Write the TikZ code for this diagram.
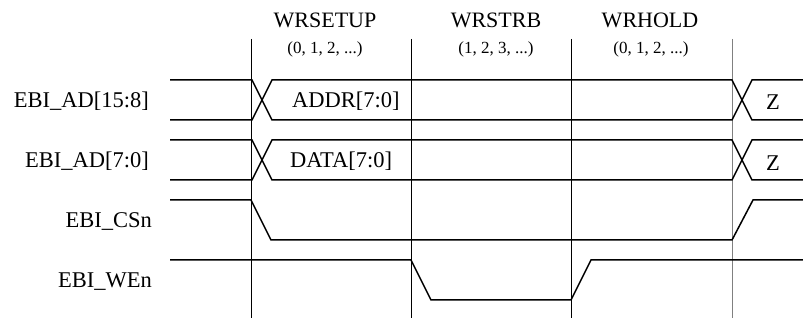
\documentclass[tikz,border=0pt]{standalone}
\usepackage{fontspec}
\setmainfont{Liberation Serif}
\begin{document}
\begin{tikzpicture}[x=1pt,y=-1pt,
  sig/.style={line width=1.5pt, line join=miter},
  gridline/.style={line width=0.7pt},
  lbl/.style={font=\fontsize{22.5}{24}\selectfont, inner sep=0pt, anchor=base east},
  bus/.style={font=\fontsize{22.5}{24}\selectfont, inner sep=0pt, anchor=base west},
  hdr/.style={font=\fontsize{22}{24}\selectfont, inner sep=0pt, anchor=base},
  sub/.style={font=\fontsize{17}{18}\selectfont, inner sep=0pt, anchor=base},
]
\useasboundingbox (0,0) rectangle (803,320);
% time grid
\foreach \x/\n in {251/g1,411/g2,571/g3} \draw[gridline] (\x,39) coordinate (\n top) -- (\x,318) coordinate (\n bot);
\draw[gridline, gray, line width=1pt] (732,39) coordinate (g4top) -- (732,318) coordinate (g4bot);
% headers
\node[hdr] (h1) at (325,28) {WRSETUP};
\node[hdr] (h2) at (496,28) {WRSTRB};
\node[hdr] (h3) at (650,28) {WRHOLD};
\node[sub] (s1) at (325,54) {(0, 1, 2, ...)};
\node[sub] (s2) at (496,54) {(1, 2, 3, ...)};
\node[sub] (s3) at (651,54) {(0, 1, 2, ...)};
% signal names
\node[lbl] (n1) at (149,108) {EBI\_AD[15:8]};
\node[lbl] (n2) at (149,168) {EBI\_AD[7:0]};
\node[lbl] (n3) at (152,228) {EBI\_CSn};
\node[lbl] (n4) at (152,288) {EBI\_WEn};
% EBI_AD[15:8]
\draw[sig] (170,80) -- (252,80) -- (272,120) -- (732,120) -- (752,80) -- (803,80);
\draw[sig] (170,120) -- (252,120) -- (272,80) -- (732,80) -- (752,120) -- (803,120);
\node[bus] (v1) at (292,108) {ADDR[7:0]};
\node[bus, anchor=base] (z1) at (773,110) {Z};
% EBI_AD[7:0]
\draw[sig] (170,140) -- (252,140) -- (272,180) -- (732,180) -- (752,140) -- (803,140);
\draw[sig] (170,180) -- (252,180) -- (272,140) -- (732,140) -- (752,180) -- (803,180);
\node[bus] (v2) at (290,168) {DATA[7:0]};
\node[bus, anchor=base] (z2) at (773,171) {Z};
% EBI_CSn
\draw[sig] (170,200) -- (251,200) -- (271,240) -- (732,240) -- (753,200) -- (803,200);
% EBI_WEn
\draw[sig] (170,260) -- (411,260) -- (431,300) -- (571,300) -- (591,260) -- (803,260);
\end{tikzpicture}
\end{document}
